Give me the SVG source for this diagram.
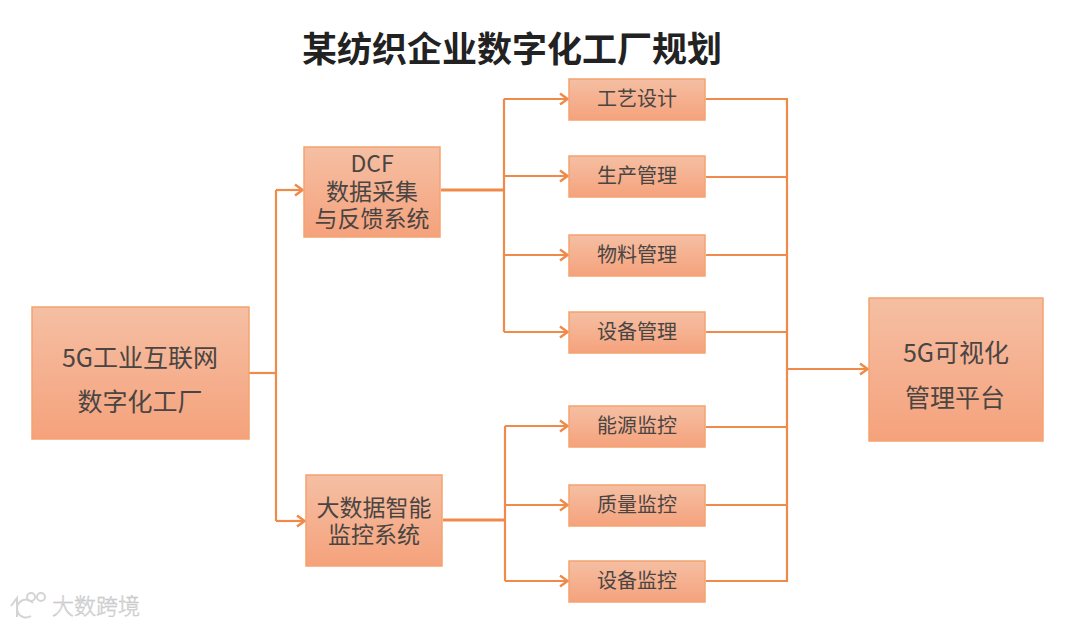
<svg xmlns="http://www.w3.org/2000/svg" width="1080" height="626" viewBox="0 0 1080 626">
<style>
text{font-family:"Noto Sans CJK SC","Noto Sans",sans-serif;fill:#4a4543;text-anchor:middle}
.box{fill:url(#g);stroke:#f4a36f;stroke-width:1.5}
.small{font-size:20px}
.mid{font-size:23px}
.big{font-size:25px}
.thin{fill:none;stroke:#ef8a4a;stroke-width:2.2}
.thick{fill:none;stroke:#ef8a4a;stroke-width:3.2}
</style>
<defs>
<linearGradient id="g" x1="0" y1="0" x2="0" y2="1"><stop offset="0" stop-color="#f5bfa3"/><stop offset="1" stop-color="#f5a27c"/></linearGradient>
<marker id="a" viewBox="0 0 12 14" refX="11" refY="7" markerWidth="12" markerHeight="14" markerUnits="userSpaceOnUse" orient="auto"><path d="M3 1.5L10.5 7L3 12.5" fill="none" stroke="#ef8a4a" stroke-width="2.4"/></marker>
</defs>
<rect width="1080" height="626" fill="#fff"/>
<text id="title" x="512" y="62" font-size="35" font-weight="700" style="fill:#222">某纺织企业数字化工厂规划</text>
<g id="connectors">
<path class="thin" d="M249 373H276"/>
<path class="thin" d="M276 190V521"/>
<path class="thin" d="M276 190H303" marker-end="url(#a)"/>
<path class="thin" d="M276 521H305" marker-end="url(#a)"/>
<path class="thick" d="M441 190H504"/>
<path class="thin" d="M504 99V332"/>
<path class="thin" d="M504 99H568" marker-end="url(#a)"/>
<path class="thin" d="M504 176H568" marker-end="url(#a)"/>
<path class="thin" d="M504 255H568" marker-end="url(#a)"/>
<path class="thin" d="M504 332H568" marker-end="url(#a)"/>
<path class="thick" d="M443 520H505"/>
<path class="thin" d="M505 426V581"/>
<path class="thin" d="M505 426H568" marker-end="url(#a)"/>
<path class="thin" d="M505 505H568" marker-end="url(#a)"/>
<path class="thin" d="M505 581H568" marker-end="url(#a)"/>
<path class="thin" d="M706 99H787V581H706"/>
<path class="thin" d="M706 177H787M706 255H787M706 332H787M706 427H787M706 505H787"/>
<path class="thin" d="M787 369H868" marker-end="url(#a)"/>
</g>
<g id="n1"><rect class="box" x="32" y="307" width="217" height="132"/><text class="big" x="140" y="367">5G工业互联网</text><text class="big" x="140" y="411">数字化工厂</text></g>
<g id="n2"><rect class="box" x="304" y="147" width="136" height="90"/><text class="mid" x="372" y="172">DCF</text><text class="mid" x="372" y="200">数据采集</text><text class="mid" x="372" y="227">与反馈系统</text></g>
<g id="n3"><rect class="box" x="306" y="475" width="136" height="91"/><text class="mid" x="374" y="516">大数据智能</text><text class="mid" x="374" y="543">监控系统</text></g>
<g id="n4"><rect class="box" x="569" y="79" width="136" height="41"/><text class="small" x="637" y="106">工艺设计</text></g>
<g id="n5"><rect class="box" x="569" y="156" width="136" height="41"/><text class="small" x="637" y="183">生产管理</text></g>
<g id="n6"><rect class="box" x="569" y="235" width="136" height="41"/><text class="small" x="637" y="262">物料管理</text></g>
<g id="n7"><rect class="box" x="569" y="312" width="136" height="41"/><text class="small" x="637" y="339">设备管理</text></g>
<g id="n8"><rect class="box" x="569" y="406" width="136" height="41"/><text class="small" x="637" y="433">能源监控</text></g>
<g id="n9"><rect class="box" x="569" y="485" width="136" height="41"/><text class="small" x="637" y="512">质量监控</text></g>
<g id="n10"><rect class="box" x="569" y="561" width="136" height="41"/><text class="small" x="637" y="588">设备监控</text></g>
<g id="n11"><rect class="box" x="869" y="298" width="174" height="143"/><text class="big" x="956" y="362">5G可视化</text><text class="big" x="955" y="407">管理平台</text></g>
<g id="watermark">
<g fill="none" stroke="#d4d4d4" stroke-width="2"><path d="M11 606L17 598V617"/><path d="M33 603A9 9 0 1 0 31 616"/><circle cx="31" cy="597" r="4"/><circle cx="41" cy="597" r="4"/></g>
<text x="96" y="614" font-size="22" font-weight="300" style="fill:#e2e2e2;stroke:#bdbdbd;stroke-width:.4">大数跨境</text>
</g>
</svg>
